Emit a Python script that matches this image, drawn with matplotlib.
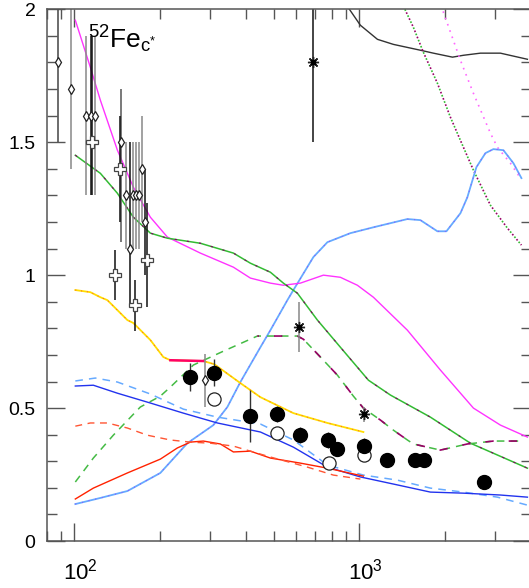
import numpy as np
import matplotlib
matplotlib.use('Agg')
import matplotlib.pyplot as plt
import matplotlib.transforms as mtransforms
from matplotlib.ticker import LogLocator, NullFormatter, MultipleLocator, FixedLocator, FixedFormatter

plt.rcParams['font.family'] = ['Liberation Sans', 'DejaVu Sans']
plt.rcParams['mathtext.fontset'] = 'custom'
plt.rcParams['mathtext.rm'] = 'Liberation Sans'
plt.rcParams['mathtext.it'] = 'Liberation Sans:italic'

# ---- model curves (x = energy, y = ratio) ----
black_x = [857.5, 922.5, 1008, 1157, 1316, 1637, 1818, 2121, 2317, 2658, 3124, 3886]
black_y = [2.05, 2.00, 1.940, 1.887, 1.868, 1.846, 1.835, 1.820, 1.827, 1.835, 1.835, 1.812]

pinkdot_x = [1924, 1971, 2262, 2512, 2882, 3050, 3387, 3672]
pinkdot_y = [2.015, 1.989, 1.808, 1.684, 1.534, 1.481, 1.421, 1.365]

greendot_x = [1415, 1450, 1547, 1677, 1878, 2086, 2317, 2512, 2882, 3305, 3702]
greendot_y = [2.023, 1.996, 1.932, 1.838, 1.722, 1.594, 1.481, 1.395, 1.263, 1.177, 1.113]

ltblue_x = [100.8, 123.4, 153.5, 200.3, 249.2, 307.4, 344.2, 382.4, 449.6, 487.3, 559, 586.8,
            689.6, 772.4, 929.9, 1119.7, 1473.6, 1636.8, 1878, 2020, 2262, 2392, 2573, 2768,
            2952, 3201, 3471, 3702]
ltblue_y = [0.139, 0.162, 0.188, 0.256, 0.368, 0.436, 0.504, 0.598, 0.729, 0.793, 0.906, 0.944,
            1.068, 1.124, 1.158, 1.180, 1.211, 1.207, 1.165, 1.165, 1.233, 1.293, 1.406, 1.459,
            1.474, 1.470, 1.421, 1.365]

mag_x = [100.8, 113.8, 123.4, 141.6, 161.1, 184.8, 212.1, 276.7, 361.4, 414.6, 487.3, 541.2,
         620.9, 747.6, 857.5, 984, 1119.7, 1473.6, 1924, 2512, 3124, 3886]
mag_y = [1.959, 1.782, 1.658, 1.470, 1.331, 1.218, 1.143, 1.083, 1.030, 0.989, 0.970, 0.962,
         0.970, 1.000, 0.992, 0.962, 0.917, 0.793, 0.643, 0.500, 0.436, 0.391]

grn_x = [100.8, 123.4, 141.6, 161.1, 184.8, 212.1, 276.7, 361.4, 414.6, 487.3, 541.2, 606.1,
         712.4, 857.5, 1075.5, 1284.8, 1774.6, 2452, 3886]
grn_y = [1.451, 1.383, 1.308, 1.218, 1.158, 1.139, 1.120, 1.083, 1.045, 1.011, 0.970, 0.932,
         0.831, 0.729, 0.605, 0.549, 0.466, 0.368, 0.274]

grndash_x = [100.8, 116.6, 137.0, 170.4, 200.3, 217.2, 261.6, 333.3, 438.6, 606.1, 636.2, 729.8,
             837.2, 952.6, 1032.8, 1185, 1316, 1473.6, 1547, 1924, 2392, 2952, 3672]
grndash_y = [0.222, 0.312, 0.398, 0.504, 0.545, 0.579, 0.662, 0.714, 0.771, 0.771, 0.759, 0.692,
             0.624, 0.545, 0.500, 0.455, 0.417, 0.380, 0.365, 0.342, 0.365, 0.376, 0.376]

yel_x = [100.8, 113.8, 123.4, 130.6, 153.5, 161.1, 184.8, 205.2, 217.2, 283.5, 309.8, 382.4,
         449.6, 586.8, 772.4, 1032.8]
yel_y = [0.944, 0.936, 0.917, 0.906, 0.831, 0.820, 0.756, 0.692, 0.680, 0.677, 0.665, 0.594,
         0.541, 0.481, 0.444, 0.410]

blue_x = [100.8, 116.6, 141.6, 184.8, 241.3, 317.5, 449.6, 586.8, 772.4, 1008, 1359.5, 1774.6,
          2317, 3124, 3886]
blue_y = [0.583, 0.586, 0.556, 0.519, 0.481, 0.444, 0.410, 0.353, 0.278, 0.241, 0.211, 0.184,
          0.180, 0.173, 0.165]

bluedash_x = [100.8, 118.5, 141.6, 184.8, 241.3, 317.5, 449.6, 586.8, 772.4, 1032.8, 1359.5,
              1774.6, 2317, 3050, 3886]
bluedash_y = [0.602, 0.613, 0.598, 0.553, 0.496, 0.466, 0.440, 0.380, 0.286, 0.248, 0.229,
              0.199, 0.184, 0.165, 0.135]

red_x = [100.8, 116.6, 153.5, 200.3, 229.8, 255.3, 283.5, 325.3, 361.4, 414.6, 487.3, 620.9,
         772.4, 1032.8]
red_y = [0.158, 0.199, 0.256, 0.308, 0.350, 0.372, 0.376, 0.365, 0.335, 0.338, 0.312, 0.293,
         0.274, 0.244]

reddash_x = [100.8, 113.8, 130.6, 153.5, 180.4, 217.2, 255.3, 300, 361.4, 414.6, 487.3, 657,
             810.5, 1008]
reddash_y = [0.432, 0.444, 0.444, 0.425, 0.398, 0.380, 0.372, 0.368, 0.357, 0.338, 0.316, 0.278,
             0.248, 0.233]

# ---- data points ----
dia_x = [87.7, 97.4, 110.2, 114.7, 118.5, 146.2, 152.2, 157.2, 161.1, 165.1, 169.1, 172.8, 176.5, 286.5]
dia_y = [1.80, 1.70, 1.60, 1.60, 1.60, 1.50, 1.30, 1.10, 1.30, 1.30, 1.30, 1.40, 1.20, 0.605]
dia_lo = [1.50, 1.40, 1.30, 1.30, 1.30, 1.125, 1.10, 0.88, 1.10, 1.10, 1.10, 1.20, 1.00, 0.505]
dia_hi = [2.10, 2.10, 1.90, 1.90, 1.90, 1.70, 1.50, 1.50, 1.50, 1.50, 1.50, 1.60, 1.40, 0.705]
dia_col = ['#444444', '#888888', '#888888', '#111111', '#888888', '#555555', '#888888',
           '#111111', '#888888', '#888888', '#888888', '#888888', '#111111', '#888888']

crs_x = [115.4, 145.0, 139.3, 163.7, 179.9]
crs_y = [1.50, 1.40, 1.00, 0.887, 1.056]
crs_lo = [1.30, 1.20, 0.906, 0.79, 0.88]
crs_hi = [1.90, 1.60, 1.094, 0.98, 1.27]

fc_x = [255.3, 308.2, 412.3, 514, 620.9, 776.8, 835.5, 1041, 1251, 1573, 1681, 2731]
fc_y = [0.618, 0.633, 0.470, 0.476, 0.398, 0.380, 0.346, 0.357, 0.305, 0.305, 0.305, 0.223]
fc_err = [0.053, 0.05, 0.098, 0.03, 0.03, 0.03, 0.0, 0.03, 0.0, 0.0, 0.0, 0.0]

oc_x = [308.2, 514, 780.5, 1041]
oc_y = [0.536, 0.407, 0.292, 0.323]

ast_x = [685.9, 612.4, 1041]
ast_y = [1.80, 0.806, 0.477]
ast_lo = [1.50, 0.71, 0.448]
ast_hi = [2.10, 0.90, 0.505]
ast_col = ['#111111', '#888888', '#888888']

fig = plt.figure(figsize=(5.29, 5.88), dpi=100)
ax = fig.add_axes([0.0883, 0.0799, 0.9155, 0.9043])

# curves
ax.plot(black_x, black_y, color='#333333', lw=1.0)
ax.plot(pinkdot_x, pinkdot_y, color='#ff66ff', lw=1.2, ls=(0, (1, 3)))
ax.plot(greendot_x, greendot_y, color='#33bb33', lw=1.2, ls=(0, (1, 3)))
ax.plot(greendot_x, greendot_y, color='#990066', lw=1.2, ls=(2, (1, 3)))
ax.plot(ltblue_x, ltblue_y, color='#66aaff', lw=1.3)
ax.plot(ltblue_x, ltblue_y, color='#9944ff', lw=0.7, ls=(0, (1, 6)))
ax.plot(mag_x, mag_y, color='#ff33ff', lw=1.0)
ax.plot(grn_x, grn_y, color='#33bb33', lw=1.1)
ax.plot(grn_x, grn_y, color='#880066', lw=0.8, ls=(0, (2, 9)))
ax.plot(grndash_x, grndash_y, color='#44bb44', lw=1.1, ls=(0, (5, 4)))
ax.plot(grndash_x[8:], grndash_y[8:], color='#990066', lw=1.2, ls=(4, (5, 9)))
ax.plot(yel_x, yel_y, color='#ffdd00', lw=1.3)
ax.plot(yel_x, yel_y, color='#ff5533', lw=0.7, ls=(0, (1, 5)))
ax.plot(yel_x[8:10], yel_y[8:10], color='#ff0066', lw=1.8)
ax.plot(bluedash_x, bluedash_y, color='#66aaff', lw=1.1, ls=(0, (5, 4)))
ax.plot(blue_x, blue_y, color='#2233ee', lw=1.0)
ax.plot(red_x, red_y, color='#ff2200', lw=1.0)
ax.plot(reddash_x, reddash_y, color='#ff5533', lw=1.0, ls=(0, (5, 4)))

# data with error bars
for x, lo, hi, c in zip(dia_x, dia_lo, dia_hi, dia_col):
    ax.vlines(x, lo, hi, color=c, lw=1.1)
for x, lo, hi in zip(crs_x, crs_lo, crs_hi):
    ax.vlines(x, lo, hi, color='#111111', lw=1.1)
for x, y, e in zip(fc_x, fc_y, fc_err):
    if e > 0:
        ax.vlines(x, y - e, y + e, color='#333333', lw=1.0)
for x, lo, hi, c in zip(ast_x, ast_lo, ast_hi, ast_col):
    ax.vlines(x, lo, hi, color=c, lw=1.1)

ax.plot(dia_x, dia_y, ls='none', marker='d', ms=5, mfc='white', mec='#222222', mew=0.9)
ax.plot(crs_x, crs_y, ls='none', marker='P', ms=8, mfc='white', mec='#444444', mew=0.9)
ax.plot(oc_x, oc_y, ls='none', marker='o', ms=9.5, mfc='white', mec='#222222', mew=0.9)
ax.plot(fc_x, fc_y, ls='none', marker='o', ms=10, mfc='black', mec='black')
ax.plot(ast_x, ast_y, ls='none', marker=(8, 2, 0), ms=8, color='#222222', mew=1.0)
ax.plot(ast_x, ast_y, ls='none', marker='s', ms=2.5, color='black')

ax.text(112, 1.853, r'$^{52}$Fe$_{\mathrm{c}^{*}}$', fontsize=19, va='baseline')

ax.set_xscale('log')
ax.set_xlim(80, 4000)
ax.set_ylim(0, 2)
ax.xaxis.set_major_locator(FixedLocator([100, 1000]))
ax.xaxis.set_major_formatter(FixedFormatter([r'$10^{2}$', r'$10^{3}$']))
ax.xaxis.set_minor_locator(LogLocator(base=10, subs=np.arange(2, 10), numticks=10))
ax.xaxis.set_minor_formatter(NullFormatter())
ax.yaxis.set_major_locator(FixedLocator([0, 0.5, 1, 1.5, 2]))
ax.yaxis.set_major_formatter(FixedFormatter(['0', '0.5', '1', '1.5', '2']))
ax.yaxis.set_minor_locator(MultipleLocator(0.1))

for s in ax.spines.values():
    s.set_color('#555555')
    s.set_linewidth(1.1)
ax.tick_params(which='both', direction='in', top=True, right=True, colors='#555555',
               labelcolor='black', labelsize=14, width=1.0)
ax.tick_params(which='major', length=13)
ax.tick_params(which='minor', length=7)
ax.tick_params(axis='y', pad=8)
ax.tick_params(axis='x', pad=13, labelsize=16)

shift = mtransforms.ScaledTranslation(6 / 100, 0, fig.dpi_scale_trans)
for lab in ax.get_xticklabels():
    lab.set_transform(lab.get_transform() + shift)

plt.savefig('out.png', dpi=100)
